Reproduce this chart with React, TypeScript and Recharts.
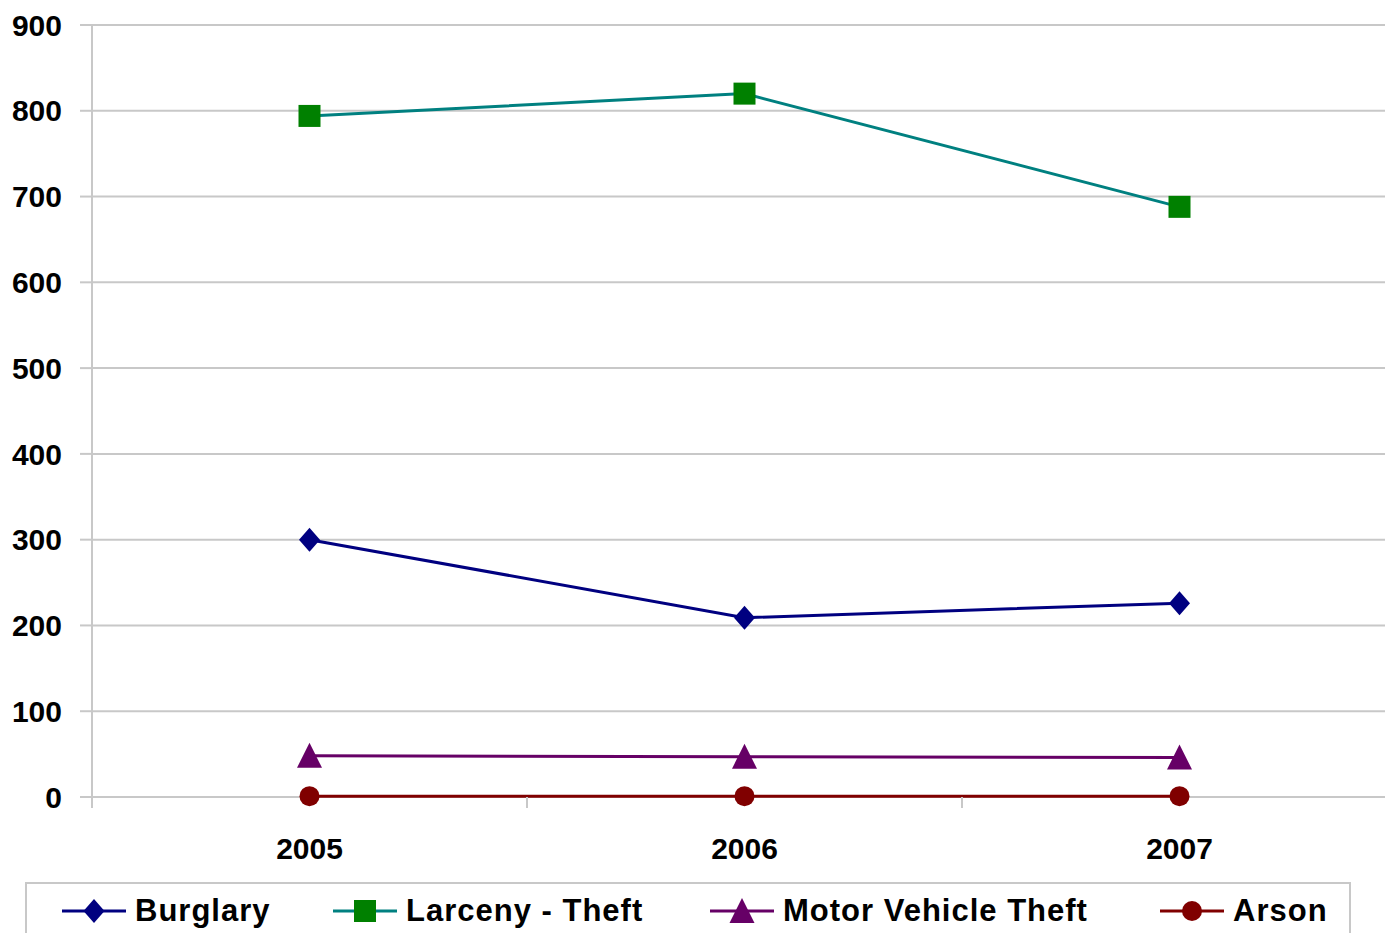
import { LineChart, Line, XAxis, YAxis, CartesianGrid, Legend } from 'recharts';

const years = [2005, 2006, 2007];
const burglary = [300, 209, 226];
const larcenyTheft = [794, 820, 688];
const motorVehicleTheft = [48, 47, 46];
const arson = [1, 1, 1];
const yTicks = [0, 100, 200, 300, 400, 500, 600, 700, 800, 900];
const bandEdges = [2004.5, 2005.5, 2006.5, 2007.5];

type Shape = 'diamond' | 'square' | 'triangle' | 'circle';

const series: { key: string; name: string; stroke: string; fill: string; shape: Shape }[] = [
  { key: 'burglary', name: 'Burglary', stroke: '#000080', fill: '#000080', shape: 'diamond' },
  { key: 'larceny', name: 'Larceny - Theft', stroke: '#008080', fill: '#008000', shape: 'square' },
  { key: 'motor', name: 'Motor Vehicle Theft', stroke: '#660066', fill: '#660066', shape: 'triangle' },
  { key: 'arson', name: 'Arson', stroke: '#800000', fill: '#800000', shape: 'circle' },
];

const data = years.map((year, i) => ({
  year,
  burglary: burglary[i],
  larceny: larcenyTheft[i],
  motor: motorVehicleTheft[i],
  arson: arson[i],
}));

const xTicks = [...bandEdges, ...years].sort((a, b) => a - b);

const FONT = '"Liberation Sans", Arial, sans-serif';
const GRID = '#c8c8c8';
// legend slot widths, so each entry starts where the original one does
const legendSlots = [271, 377, 450, 160];

function Marker({ shape, cx, cy, fill }: { shape: Shape; cx: number; cy: number; fill: string }) {
  switch (shape) {
    case 'diamond':
      return <polygon points={`${cx},${cy - 12} ${cx + 10.5},${cy} ${cx},${cy + 12} ${cx - 10.5},${cy}`} fill={fill} />;
    case 'square':
      return <rect x={cx - 11} y={cy - 11} width={22} height={22} fill={fill} />;
    case 'triangle':
      return <polygon points={`${cx},${cy - 13} ${cx + 12.5},${cy + 12} ${cx - 12.5},${cy + 12}`} fill={fill} />;
    default:
      return <circle cx={cx} cy={cy} r={10} fill={fill} />;
  }
}

// year labels sit at band centres, short tick marks at band edges
function YearTick({ x, y, payload }: any) {
  const v = payload.value as number;
  if (!Number.isInteger(v)) {
    return <line x1={x} y1={y} x2={x} y2={y + 11} stroke={GRID} strokeWidth={2} />;
  }
  return (
    <text x={x} y={y + 41} dy="0.71em" textAnchor="middle" fill="#000" fontFamily={FONT} fontWeight="bold" fontSize={30}>
      {v}
    </text>
  );
}

function LegendBox() {
  return (
    <div
      style={{
        width: 1326,
        height: 60,
        boxSizing: 'border-box',
        border: `2px solid ${GRID}`,
        display: 'flex',
        alignItems: 'center',
        paddingLeft: 35,
        paddingBottom: 3,
        fontFamily: FONT,
        fontWeight: 'bold',
        fontSize: 31,
        letterSpacing: 1,
        color: '#000',
        background: '#fff',
      }}
    >
      {series.map((s, i) => (
        <div key={s.key} style={{ display: 'flex', alignItems: 'center', width: legendSlots[i], flexShrink: 0 }}>
          <svg width={64} height={28} style={{ flexShrink: 0 }}>
            <line x1={0} y1={14} x2={64} y2={14} stroke={s.stroke} strokeWidth={3} />
            <Marker shape={s.shape} cx={32} cy={14} fill={s.fill} />
          </svg>
          <span style={{ marginLeft: 9, whiteSpace: 'nowrap' }}>{s.name}</span>
        </div>
      ))}
    </div>
  );
}

export default function App() {
  return (
    <div style={{ position: 'absolute', left: 0, top: 0, width: 1385, height: 933, overflow: 'hidden', background: '#fff' }}>
      <LineChart width={1398} height={933} data={data} margin={{ top: 25, right: 1, bottom: 0, left: 0 }}>
        <CartesianGrid vertical={false} stroke={GRID} strokeWidth={2} />
        <XAxis
          dataKey="year"
          type="number"
          domain={[2004.5, 2007.5]}
          ticks={xTicks}
          interval={0}
          axisLine={false}
          tickLine={false}
          tickSize={0}
          tickMargin={0}
          height={76}
          tick={<YearTick />}
        />
        <YAxis
          domain={[0, 900]}
          ticks={yTicks}
          width={92}
          tickSize={12}
          tickMargin={18}
          stroke={GRID}
          strokeWidth={2}
          tick={{ fill: '#000', fontFamily: FONT, fontWeight: 'bold', fontSize: 30 }}
        />
        <Legend
          content={() => <LegendBox />}
          wrapperStyle={{ left: 25, top: 882, bottom: 'auto', width: 1326, height: 60 }}
        />
        {series.map((s) => (
          <Line
            key={s.key}
            dataKey={s.key}
            name={s.name}
            stroke={s.stroke}
            strokeWidth={3}
            isAnimationActive={false}
            dot={(p: any) => <Marker key={`${s.key}-${p.index}`} shape={s.shape} cx={p.cx} cy={p.cy} fill={s.fill} />}
            activeDot={false}
          />
        ))}
      </LineChart>
    </div>
  );
}
